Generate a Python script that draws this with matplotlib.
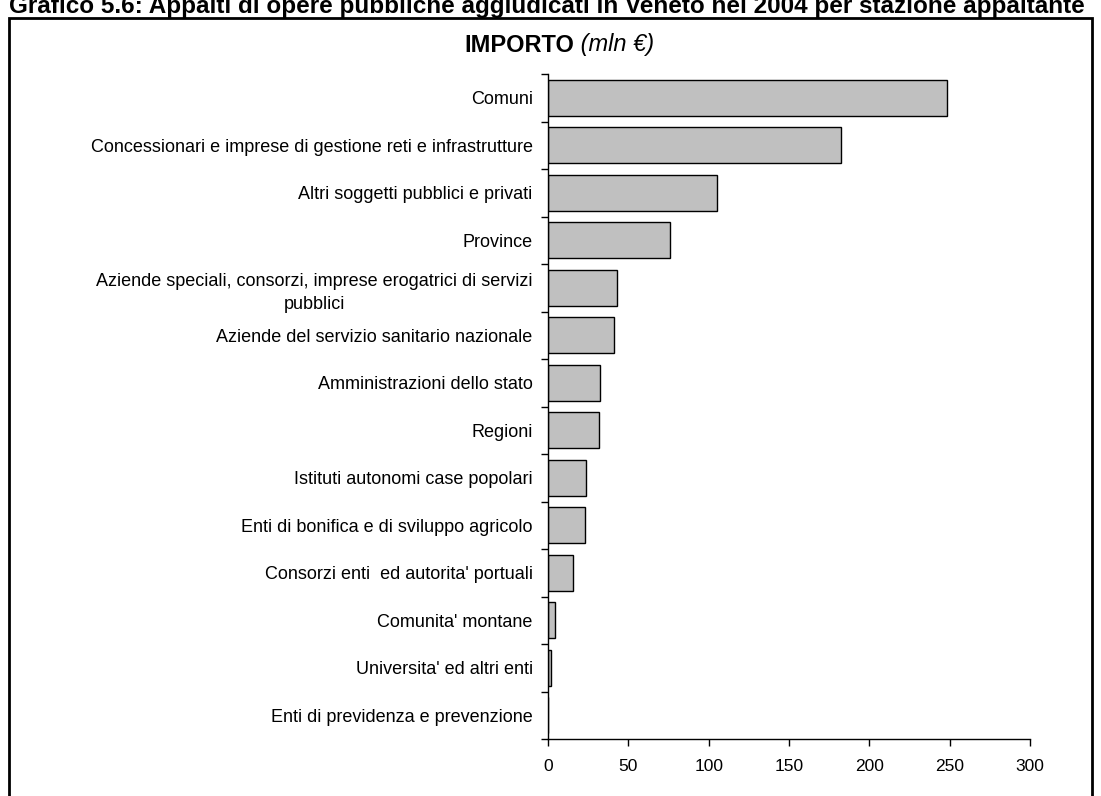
import matplotlib
matplotlib.use("Agg")
import matplotlib.pyplot as plt
from matplotlib.patches import Rectangle

plt.rcParams['font.family'] = ['Liberation Sans', 'DejaVu Sans']

categories = [
    "Comuni",
    "Concessionari e imprese di gestione reti e infrastrutture",
    "Altri soggetti pubblici e privati",
    "Province",
    "Aziende speciali, consorzi, imprese erogatrici di servizi\npubblici",
    "Aziende del servizio sanitario nazionale",
    "Amministrazioni dello stato",
    "Regioni",
    "Istituti autonomi case popolari",
    "Enti di bonifica e di sviluppo agricolo",
    "Consorzi enti  ed autorita' portuali",
    "Comunita' montane",
    "Universita' ed altri enti",
    "Enti di previdenza e prevenzione",
]
importo = [248.5, 182.5, 104.9, 76.2, 43.0, 41.1, 32.4, 31.6, 23.7, 22.9, 15.8, 4.3, 1.9, 0.0]
x_ticks = [0, 50, 100, 150, 200, 250, 300]

W, H = 1101, 796
fig = plt.figure(figsize=(W / 100, H / 100), dpi=100)

# outer frame (open at the bottom)
fig.add_artist(Rectangle((9 / W, -0.05), (1092 - 9) / W, 1.05 - 18 / H,
                         transform=fig.transFigure, fill=False,
                         edgecolor='black', linewidth=2))

fig.text(0.497, 1 - 13 / H,
         "Grafico 5.6: Appalti di opere pubbliche aggiudicati in Veneto nel 2004 per stazione appaltante",
         ha='center', va='baseline', fontsize=17.5, fontweight='bold')

ax = fig.add_axes([548 / W, 1 - 739 / H, (1030 - 548) / W, (739 - 74) / H])

n = len(categories)
ypos = list(range(n))
ax.barh(ypos, importo, height=0.76, color='#c0c0c0', edgecolor='black', linewidth=1)

ax.set_xlim(0, 300)
ax.set_ylim(n - 0.5, -0.5)
ax.set_xticks(x_ticks)
ax.set_yticks(ypos)
ax.set_yticklabels(categories, multialignment='center', linespacing=1.5)
ax.set_yticks([i - 0.5 for i in range(n + 1)], minor=True)

ax.tick_params(axis='y', which='major', length=0, pad=11, labelsize=13)
ax.tick_params(axis='y', which='minor', length=5, width=1, direction='out')
ax.tick_params(axis='x', length=5, width=1, direction='out', pad=9.5, labelsize=12.5)

for s in ('top', 'right'):
    ax.spines[s].set_visible(False)
for s in ('left', 'bottom'):
    ax.spines[s].set_linewidth(1)

fig.text(0.5215, 1 - 45 / H, "IMPORTO", ha='right', va='center',
         fontsize=17, fontweight='bold')
fig.text(0.5215, 1 - 45 / H, " (mln €)", ha='left', va='center',
         fontsize=17, fontstyle='italic')

fig.savefig("out.png", dpi=100)
